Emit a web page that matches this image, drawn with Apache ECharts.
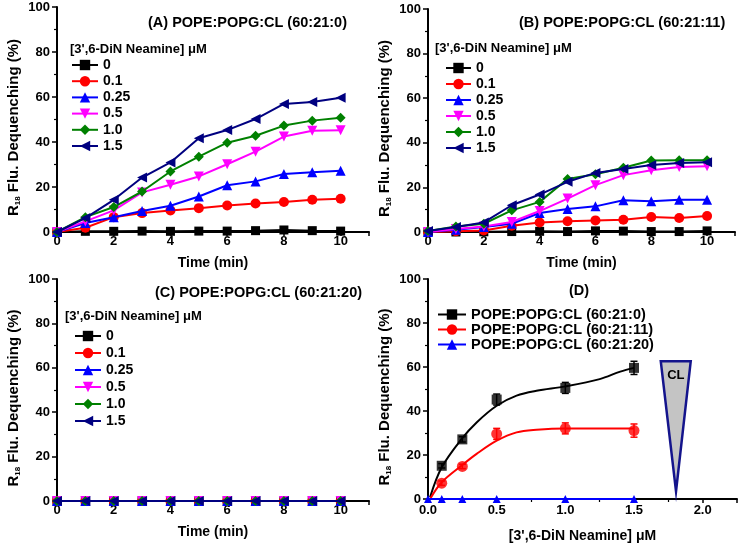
<!DOCTYPE html>
<html><head><meta charset="utf-8">
<script src="https://cdn.jsdelivr.net/npm/echarts@6/dist/echarts.min.js"></script>
<style>html,body{margin:0;padding:0;background:#fff}#c{width:740px;height:544px}</style>
</head><body><div id="c"></div>
<script>
// ---------- data ----------
const timeMin = [0,1,2,3,4,5,6,7,8,9,10];
const concNames = ['0','0.1','0.25','0.5','1.0','1.5'];
const timeTicks = [0,2,4,6,8,10];

// Panel A  POPE:POPG:CL (60:21:0)
const A_0   = [0,0.3,0.3,0.4,0.3,0.4,0.4,0.6,0.9,0.6,0.4];
const A_01  = [0,1.9,6.6,8.4,9.6,10.6,11.8,12.7,13.3,14.3,14.8];
const A_025 = [0,4.0,6.6,9.3,11.7,15.8,20.8,22.5,25.8,26.6,27.2];
const A_05  = [0,4.7,9.6,17.6,21.0,24.7,30.1,35.7,42.4,45.0,45.2];
const A_10  = [0,6.6,11.1,18.0,26.9,33.5,39.7,42.8,47.3,49.5,50.8];
const A_15  = [0,6.2,14.3,24.2,30.9,41.7,45.3,50.2,56.9,57.8,59.7];

// Panel B  POPE:POPG:CL (60:21:11)
const B_0   = [0,0,0.1,0.2,0.3,0.2,0.5,0.4,0.2,0.2,0.5];
const B_01  = [0,0.3,0.7,2.8,4.3,4.8,5.2,5.5,6.7,6.3,7.2];
const B_025 = [0,1.0,2.2,3.7,8.5,10.3,11.5,14.2,13.8,14.5,14.5];
const B_05  = [0,1.3,2.5,4.5,9.4,15.0,21.0,25.5,27.7,29.1,29.5];
const B_10  = [0.5,2.5,3.7,9.7,13.5,23.8,25.9,28.8,32.1,32.2,32.2];
const B_15  = [0.5,2.2,4.3,12.0,16.8,22.5,26.5,28.3,30.0,30.9,31.3];

// Panel C  POPE:POPG:CL (60:21:20)
const C_0   = [0,0,0,0,0,0,0,0,0,0,0];
const C_01  = [0,0,0,0,0,0,0,0,0,0,0];
const C_025 = [0,0,0,0,0,0,0,0,0,0,0];
const C_05  = [0,0,0,0,0,0,0,0,0,0,0];
const C_10  = [0,0,0,0,0,0,0,0,0,0,0];
const C_15  = [0,0,0,0,0,0,0,0,0,0,0];

// Panel D  dose response
const dConc   = [0.1,0.25,0.5,1.0,1.5];
const d0      = [15.1,27.1,45.2,50.5,59.6];
const d0Err   = [1.0,1.2,2.5,2.5,3.0];
const d11     = [7.2,14.8,29.6,32.1,31.1];
const d11Err  = [1.0,1.0,2.5,2.5,3.0];
const d20Conc = [0,0.1,0.25,0.5,1.0,1.5];
const d20     = [0,0,0,0,0,0];
const fitX    = [0.015,0.1,0.245,0.354,0.5,0.645,0.79,1.0,1.25,1.4,1.5];
const fit0    = [0.8,14.4,27.3,34.8,42.4,47.0,49.2,51.2,54.5,57.9,59.6];
const fit11   = [0,7.6,15.2,20.5,26.5,30.3,31.5,32.1,32.1,32.1,32.0];
const dNames  = ['POPE:POPG:CL (60:21:0)','POPE:POPG:CL (60:21:11)','POPE:POPG:CL (60:21:20)'];
const clTriangle = [[1.695,62.6],[1.913,62.6],[1.806,3.5]];
const clLabel = [1.805,56];

// ---------- styles ----------
const FONT = "'Liberation Sans', Arial, sans-serif";
const colors = ['#000000','#ff0000','#0000ff','#ff00ff','#008000','#000080'];
const symbols = ['rect','circle','triangle','triangle','diamond','triangle'];
const rotates = [0,0,0,180,0,90];
const sizes = [9,10,10,10,10,10];

const zip = (xs, ys) => xs.map((x,i)=>[x, ys[i]]);

const panels = [
  {vals:[A_0,A_01,A_025,A_05,A_10,A_15]},
  {vals:[B_0,B_01,B_025,B_05,B_10,B_15]},
  {vals:[C_0,C_01,C_025,C_05,C_10,C_15]}
];

const grids = [
  {left:57, top:7, width:312, height:225},
  {left:428, top:9, width:307, height:223},
  {left:57, top:279, width:312, height:222},
  {left:428, top:279, width:311, height:221}
];

const yName = '{r|R}{s|18}{r| Flu. Dequenching (%)}';
function yAxis(i){
  return {
    gridIndex:i, type:'value', min:0, max:100, interval:20,
    name:yName, nameLocation:'middle', nameGap:35, nameRotate:90,
    nameTextStyle:{fontFamily:FONT, fontWeight:'bold', fontSize:15, color:'#000', padding:[0,16,0,0],
      rich:{r:{fontFamily:FONT, fontWeight:'bold', fontSize:15, color:'#000', lineHeight:17},
            s:{fontFamily:FONT, fontWeight:'bold', fontSize:8, color:'#000', lineHeight:10, verticalAlign:'bottom'}}},
    axisLine:{show:true, lineStyle:{color:'#000', width:2}},
    axisTick:{show:true, inside:false, length:5, lineStyle:{color:'#000', width:1.5}},
    minorTick:{show:true, splitNumber:2, length:3, lineStyle:{color:'#000', width:1.2}},
    splitLine:{show:false},
    axisLabel:{fontFamily:FONT, fontWeight:'bold', fontSize:13, color:'#000', margin:7}
  };
}
function xTimeAxis(i){
  return {
    gridIndex:i, type:'value', min:0, max:11, interval:2,
    name:'Time (min)', nameLocation:'middle', nameGap:24,
    nameTextStyle:{fontFamily:FONT, fontWeight:'bold', fontSize:14, color:'#000'},
    axisLine:{show:true, onZero:false, lineStyle:{color:'#000', width:2}},
    axisTick:{show:true, inside:false, length:4, lineStyle:{color:'#000', width:1.5}},
    minorTick:{show:true, splitNumber:2, length:3, lineStyle:{color:'#000', width:1.2}},
    splitLine:{show:false},
    axisLabel:{fontFamily:FONT, fontWeight:'bold', fontSize:13, color:'#000', margin:3,
      formatter:v => timeTicks.indexOf(v) >= 0 ? String(v) : ''}
  };
}

const xAxes = [xTimeAxis(0), xTimeAxis(1), xTimeAxis(2), {
  gridIndex:3, type:'value', min:0, max:2.25, interval:0.5,
  name:"[3',6-DiN Neamine] \u03bcM", nameLocation:'middle', nameGap:30,
  nameTextStyle:{fontFamily:FONT, fontWeight:'bold', fontSize:14, color:'#000'},
  axisLine:{show:true, onZero:false, lineStyle:{color:'#000', width:2}},
  axisTick:{show:true, inside:false, length:4, lineStyle:{color:'#000', width:1.5}},
  minorTick:{show:true, splitNumber:2, length:3, lineStyle:{color:'#000', width:1.2}},
  splitLine:{show:false},
  axisLabel:{fontFamily:FONT, fontWeight:'bold', fontSize:13, color:'#000', margin:5,
    formatter:v => v > 2.01 ? '' : v.toFixed(1)}
}];
const yAxes = [yAxis(0), yAxis(1), yAxis(2), yAxis(3)];

const series = [];
panels.forEach((p, pi) => {
  p.vals.forEach((vals, k) => {
    series.push({
      type:'line', name:concNames[k], xAxisIndex:pi, yAxisIndex:pi,
      data:zip(timeMin, vals), symbol:symbols[k], symbolRotate:rotates[k], symbolSize:sizes[k],
      lineStyle:{color:colors[k], width:2}, itemStyle:{color:colors[k]}, showAllSymbol:true,
      z:2+k, animation:false
    });
  });
});

function errSeries(xs, ys, es, color){
  return {
    type:'custom', xAxisIndex:3, yAxisIndex:3, silent:true, animation:false, z:8,
    data: xs.map((x,i)=>[x, ys[i]-es[i], ys[i]+es[i]]),
    encode:{x:0, y:[1,2]},
    renderItem:function(params, api){
      const x = api.value(0);
      const p1 = api.coord([x, api.value(1)]);
      const p2 = api.coord([x, api.value(2)]);
      const w = 3.5, st = {stroke:color, lineWidth:1.5};
      return {type:'group', children:[
        {type:'line', shape:{x1:p1[0], y1:p1[1], x2:p2[0], y2:p2[1]}, style:st},
        {type:'line', shape:{x1:p1[0]-w, y1:p1[1], x2:p1[0]+w, y2:p1[1]}, style:st},
        {type:'line', shape:{x1:p2[0]-w, y1:p2[1], x2:p2[0]+w, y2:p2[1]}, style:st}
      ]};
    }
  };
}

// Panel D fitted curves (named for legend) + measured points
series.push({type:'line', name:dNames[0], xAxisIndex:3, yAxisIndex:3, data:zip(fitX, fit0),
  smooth:0.35, showSymbol:false, symbol:'rect', symbolSize:9,
  lineStyle:{color:'#000', width:2}, itemStyle:{color:'#000'}, z:5, animation:false});
series.push({type:'line', name:dNames[1], xAxisIndex:3, yAxisIndex:3, data:zip(fitX, fit11),
  smooth:0.35, showSymbol:false, symbol:'circle', symbolSize:10,
  lineStyle:{color:'#ff0000', width:2}, itemStyle:{color:'#ff0000'}, z:5, animation:false});
series.push(errSeries(dConc, d0, d0Err, '#000'));
series.push(errSeries(dConc, d11, d11Err, '#ff0000'));
series.push({type:'scatter', name:'pts0', xAxisIndex:3, yAxisIndex:3, data:zip(dConc, d0),
  symbol:'rect', symbolSize:10, itemStyle:{color:'#000'}, z:9, animation:false});
series.push({type:'scatter', name:'pts11', xAxisIndex:3, yAxisIndex:3, data:zip(dConc, d11),
  symbol:'circle', symbolSize:11, itemStyle:{color:'#ff0000'}, z:9, animation:false});
series.push({type:'line', name:dNames[2], xAxisIndex:3, yAxisIndex:3, data:zip(d20Conc, d20),
  symbol:'triangle', symbolSize:8, showAllSymbol:true,
  lineStyle:{color:'#0000ff', width:2}, itemStyle:{color:'#0000ff'}, z:9, animation:false});
// CL wedge annotation
series.push({type:'custom', xAxisIndex:3, yAxisIndex:3, silent:true, animation:false, z:3,
  data:[[clLabel[0], clLabel[1]]],
  renderItem:function(params, api){
    const pts = clTriangle.map(p => api.coord(p));
    const lp = api.coord(clLabel);
    return {type:'group', children:[
      {type:'polygon', shape:{points:pts}, style:{fill:'#c4c4c4', stroke:'#14148c', lineWidth:2.5}},
      {type:'text', x:lp[0], y:lp[1], style:{text:'CL', fill:'#000', font:"bold 13px " + FONT, align:'center', verticalAlign:'middle'}}
    ]};
  }
});

const titleStyle = {fontFamily:FONT, fontWeight:'bold', fontSize:14.5, color:'#000'};
const headStyle = {fontFamily:FONT, fontWeight:'bold', fontSize:13, color:'#000'};
const titles = [
  {text:'(A) POPE:POPG:CL (60:21:0)', left:148, top:15, textStyle:titleStyle},
  {text:'(B) POPE:POPG:CL (60:21:11)', left:519, top:15, textStyle:titleStyle},
  {text:'(C) POPE:POPG:CL (60:21:20)', left:155, top:285, textStyle:titleStyle},
  {text:'(D)', left:569, top:283, textStyle:titleStyle},
  {text:"[3',6-DiN Neamine] \u03bcM", left:70, top:43, textStyle:headStyle},
  {text:"[3',6-DiN Neamine] \u03bcM", left:435, top:42, textStyle:headStyle},
  {text:"[3',6-DiN Neamine] \u03bcM", left:65, top:310, textStyle:headStyle}
].map(t => Object.assign({padding:0}, t));

const legStyle = {fontFamily:FONT, fontWeight:'bold', fontSize:14, color:'#000'};
function leg(left, top, gap, names, w, fs){
  return {orient:'vertical', left:left, top:top, itemWidth:w, itemHeight:13, itemGap:gap,
    padding:0, data:names, selectedMode:false,
    textStyle:Object.assign({}, legStyle, {fontSize:fs}), itemStyle:{borderWidth:0}};
}
const legends = [
  leg(71, 58, 2.2, concNames, 26, 14),
  leg(445, 61, 2.0, concNames, 25, 14),
  leg(74, 329, 3.0, concNames, 26, 14),
  leg(437, 307, 0, dNames, 28, 14.5)
];

const chart = echarts.init(document.getElementById('c'), null, {renderer:'canvas'});
chart.setOption({
  backgroundColor:'#fff', animation:false,
  title:titles, legend:legends, grid:grids, xAxis:xAxes, yAxis:yAxes, series:series
});
</script></body></html>
